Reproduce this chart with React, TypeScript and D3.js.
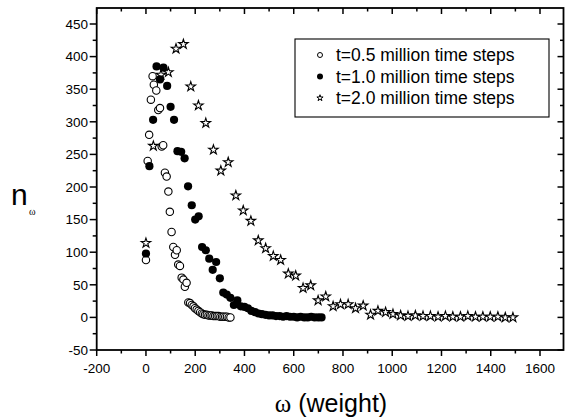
import React from "react";
import * as d3 from "d3";

const openX = [0, 7, 13, 20, 27, 32, 42, 50, 57, 64, 70, 77, 84, 91, 97, 104, 111, 118, 125, 131, 138, 145, 152, 158, 165, 172, 179, 186, 193, 199, 206, 213, 220, 227, 233, 240, 247, 254, 261, 267, 274, 281, 288, 295, 302, 309, 315, 322, 329, 336, 343];
const openY = [88, 240, 280, 334, 370, 357, 348, 318, 321, 262, 264, 222, 216, 193, 162, 131, 108, 96, 103, 81, 79, 61, 58, 47, 53, 23, 22, 19, 17, 14, 12, 10, 8, 6, 5, 4, 4, 3, 3, 3, 2, 2, 2, 2, 1, 1, 1, 1, 1, 0, 0];

const fillX = [0, 14, 29, 43, 57, 71, 86, 100, 114, 128, 143, 157, 171, 186, 200, 214, 228, 243, 257, 271, 285, 300, 314, 328, 343, 357, 371, 385, 400, 414, 428, 443, 457, 471, 485, 500, 514, 528, 543, 557, 571, 585, 600, 614, 628, 643, 657, 671, 685, 700, 713];
const fillY = [98, 232, 303, 385, 365, 383, 355, 323, 303, 255, 254, 244, 201, 172, 150, 155, 108, 103, 90, 73, 85, 60, 38, 35, 30, 19, 26, 17, 16, 14, 10, 8, 6, 5, 4, 3, 3, 2, 2, 1, 2, 1, 1, 0, 1, 0, 0, 1, 0, 0, 0];

const starX = [0, 30, 61, 91, 122, 152, 182, 213, 243, 274, 304, 334, 365, 395, 426, 456, 486, 517, 547, 578, 608, 638, 669, 699, 730, 760, 790, 821, 851, 882, 912, 942, 973, 1003, 1034, 1064, 1094, 1125, 1155, 1186, 1216, 1246, 1277, 1307, 1338, 1368, 1398, 1429, 1459, 1490];
const starY = [114, 263, 372, 376, 412, 419, 354, 325, 298, 257, 225, 238, 187, 164, 148, 118, 106, 94, 88, 67, 64, 45, 49, 26, 32, 17, 20, 20, 14, 18, 4, 10, 8, 5, 3, 2, 3, 2, 2, 1, 2, 1, 1, 2, 1, 1, 1, 1, 0, 0];

const xTicks = [-200, 0, 200, 400, 600, 800, 1000, 1200, 1400, 1600];
const xMinor = [-100, 100, 300, 500, 700, 900, 1100, 1300, 1500];
const yTicks = [-50, 0, 50, 100, 150, 200, 250, 300, 350, 400, 450];
const yMinor = [-25, 25, 75, 125, 175, 225, 275, 325, 375, 425];

const legendLabels = ["t=0.5 million time steps", "t=1.0 million time steps", "t=2.0 million time steps"];

const W = 565, H = 417;
const L = 96.7, R = 563.5, T = 8, B = 350;

export default function App() {
  const x = d3.scaleLinear().domain([-200, 1600]).range([96.7, 540]);
  const y = d3.scaleLinear().domain([-50, 450]).range([350, 24]);
  const star = d3.symbol().type(d3.symbolStar).size(28)() as string;
  const starSmall = d3.symbol().type(d3.symbolStar).size(12)() as string;
  const font = "'Liberation Sans', Arial, sans-serif";
  const serif = "'Liberation Serif', 'Times New Roman', serif";
  const open = openX.map((v, i) => [v, openY[i]]);
  const filled = fillX.map((v, i) => [v, fillY[i]]);
  const stars = starX.map((v, i) => [v, starY[i]]);
  const legY = [55, 76.5, 98];
  return (
    <svg width={W} height={H} style={{ position: "absolute", left: 0, top: 0, background: "#fff" }}>
      <rect x={0} y={0} width={W} height={H} fill="#fff" />
      {stars.map(([a, b], i) => (
        <path key={"s" + i} d={star} transform={`translate(${x(a)},${y(b)})`} fill="#fff" stroke="#000" strokeWidth={1.1} />
      ))}
      {open.map(([a, b], i) => (
        <circle key={"o" + i} cx={x(a)} cy={y(b)} r={3.7} fill="#fff" stroke="#000" strokeWidth={1.1} />
      ))}
      {filled.map(([a, b], i) => (
        <circle key={"f" + i} cx={x(a)} cy={y(b)} r={4.1} fill="#000" />
      ))}
      <rect x={L} y={T} width={R - L} height={B - T} fill="none" stroke="#000" strokeWidth={1.8} />
      {xTicks.map((t) => (
        <g key={"xt" + t}>
          <line x1={x(t)} x2={x(t)} y1={B} y2={B + 6} stroke="#000" strokeWidth={1.5} />
          <line x1={x(t)} x2={x(t)} y1={T} y2={T + 6} stroke="#000" strokeWidth={1.5} />
          <text x={x(t)} y={373} textAnchor="middle" fontFamily={font} fontSize={13.5}>{t}</text>
        </g>
      ))}
      {xMinor.map((t) => (
        <g key={"xm" + t}>
          <line x1={x(t)} x2={x(t)} y1={B} y2={B + 3.5} stroke="#000" strokeWidth={1.5} />
          <line x1={x(t)} x2={x(t)} y1={T} y2={T + 3.5} stroke="#000" strokeWidth={1.5} />
        </g>
      ))}
      {yTicks.map((t) => (
        <g key={"yt" + t}>
          <line x1={L - 7} x2={L} y1={y(t)} y2={y(t)} stroke="#000" strokeWidth={1.5} />
          <line x1={R - 6} x2={R} y1={y(t)} y2={y(t)} stroke="#000" strokeWidth={1.5} />
          <text x={88} y={y(t) + 4.8} textAnchor="end" fontFamily={font} fontSize={13.5}>{t}</text>
        </g>
      ))}
      {yMinor.map((t) => (
        <g key={"ym" + t}>
          <line x1={L - 4} x2={L} y1={y(t)} y2={y(t)} stroke="#000" strokeWidth={1.5} />
          <line x1={R - 3.5} x2={R} y1={y(t)} y2={y(t)} stroke="#000" strokeWidth={1.5} />
        </g>
      ))}
      <rect x={295} y={39} width={254} height={78} fill="#fff" stroke="#000" strokeWidth={1.1} />
      <circle cx={320} cy={legY[0]} r={2.5} fill="#fff" stroke="#000" strokeWidth={1} />
      <circle cx={320} cy={legY[1]} r={3} fill="#000" />
      <path d={starSmall} transform={`translate(320,${legY[2]})`} fill="#fff" stroke="#000" strokeWidth={1} />
      {legendLabels.map((s, i) => (
        <text key={s} x={336} y={legY[i] + 6} fontFamily={font} fontSize={17.5}>{s}</text>
      ))}
      <text x={331} y={412} textAnchor="middle" fontSize={25}>
        <tspan fontFamily={serif}>ω</tspan>
        <tspan fontFamily={font}> (weight)</tspan>
      </text>
      <text x={11} y={205} fontFamily={font} fontSize={30}>n</text>
      <text x={29} y={215} fontFamily={serif} fontSize={10}>ω</text>
    </svg>
  );
}
